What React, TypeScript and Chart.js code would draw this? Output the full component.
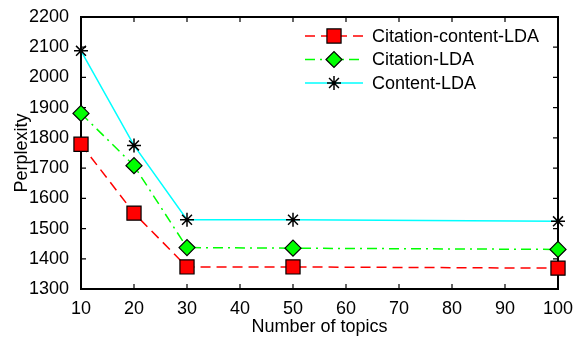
import React, { useEffect, useRef } from "react";
import { Chart, registerables } from "chart.js";

Chart.register(...registerables);

const topics = [10, 20, 30, 50, 100];
const citationContentLDA = [1779, 1551, 1373, 1373, 1369];
const citationLDA = [1881, 1708, 1437, 1435, 1431];
const contentLDA = [2088, 1775, 1529, 1529, 1524];
const seriesNames = ["Citation-content-LDA", "Citation-LDA", "Content-LDA"];
const xTicks = [10, 20, 30, 40, 50, 60, 70, 80, 90, 100];
const yTicks = [1300, 1400, 1500, 1600, 1700, 1800, 1900, 2000, 2100, 2200];

const FONT = "'Liberation Sans', Arial, Helvetica, sans-serif";
const LEGEND_ROWS = [36, 59.5, 83];

function drawMarker(ctx: CanvasRenderingContext2D, style: string, r: number, x: number, y: number) {
  ctx.beginPath();
  if (style === "rect") {
    const s = Math.SQRT1_2 * r;
    ctx.rect(x - s, y - s, 2 * s, 2 * s);
    ctx.fill();
    ctx.stroke();
  } else if (style === "rectRot") {
    ctx.moveTo(x - r, y);
    ctx.lineTo(x, y + r);
    ctx.lineTo(x + r, y);
    ctx.lineTo(x, y - r);
    ctx.closePath();
    ctx.fill();
    ctx.stroke();
  } else {
    for (let k = 0; k < 4; k++) {
      const ang = (k * Math.PI) / 4;
      ctx.moveTo(x - Math.cos(ang) * r, y - Math.sin(ang) * r);
      ctx.lineTo(x + Math.cos(ang) * r, y + Math.sin(ang) * r);
    }
    ctx.stroke();
  }
}

const boxPlugin = {
  id: "boxAxes",
  beforeDatasetsDraw(chart: any) {
    const { ctx, chartArea: a, scales } = chart;
    ctx.save();
    ctx.strokeStyle = "#000";
    ctx.lineWidth = 2;
    ctx.strokeRect(a.left, a.top, a.right - a.left, a.bottom - a.top);
    ctx.lineWidth = 1.2;
    const L = 5;
    ctx.beginPath();
    xTicks.forEach((v) => {
      const x = scales.x.getPixelForValue(v);
      ctx.moveTo(x, a.bottom);
      ctx.lineTo(x, a.bottom - L);
      ctx.moveTo(x, a.top);
      ctx.lineTo(x, a.top + L);
    });
    yTicks.forEach((v) => {
      const y = scales.y.getPixelForValue(v);
      ctx.moveTo(a.left, y);
      ctx.lineTo(a.left + L, y);
      ctx.moveTo(a.right, y);
      ctx.lineTo(a.right - L, y);
    });
    ctx.stroke();
    ctx.restore();
  },
  afterDraw(chart: any) {
    const { ctx } = chart;
    const x0 = 305;
    const x1 = 363;
    const mx = 334;
    chart.data.datasets.forEach((ds: any, i: number) => {
      const y = LEGEND_ROWS[i];
      ctx.save();
      ctx.strokeStyle = ds.borderColor;
      ctx.lineWidth = ds.borderWidth;
      ctx.setLineDash(ds.borderDash || []);
      ctx.beginPath();
      ctx.moveTo(x0, y);
      ctx.lineTo(x1, y);
      ctx.stroke();
      ctx.setLineDash([]);
      ctx.fillStyle = ds.pointBackgroundColor;
      ctx.strokeStyle = ds.pointBorderColor;
      ctx.lineWidth = ds.pointBorderWidth;
      drawMarker(ctx, ds.pointStyle, ds.pointRadius, mx, y);
      ctx.fillStyle = "#000";
      ctx.font = `18px ${FONT}`;
      ctx.textBaseline = "middle";
      ctx.textAlign = "left";
      ctx.fillText(seriesNames[i], 372, y + 1);
      ctx.restore();
    });
  },
};

export default function App() {
  const ref = useRef<HTMLCanvasElement>(null);
  useEffect(() => {
    document.body.style.margin = "0";
    const chart = new Chart(ref.current!, {
      type: "line",
      data: {
        datasets: [
          {
            label: seriesNames[0],
            data: topics.map((t, i) => ({ x: t, y: citationContentLDA[i] })),
            borderColor: "#ff0000",
            borderWidth: 1.5,
            borderDash: [10, 6],
            pointStyle: "rect",
            pointRadius: 10,
            pointBackgroundColor: "#ff0000",
            pointBorderColor: "#000000",
            pointBorderWidth: 1.2,
            clip: false as any,
          },
          {
            label: seriesNames[1],
            data: topics.map((t, i) => ({ x: t, y: citationLDA[i] })),
            borderColor: "#00ff00",
            borderWidth: 1.5,
            borderDash: [10, 5, 2, 5],
            pointStyle: "rectRot",
            pointRadius: 8,
            pointBackgroundColor: "#00ff00",
            pointBorderColor: "#000000",
            pointBorderWidth: 1.2,
            clip: false as any,
          },
          {
            label: seriesNames[2],
            data: topics.map((t, i) => ({ x: t, y: contentLDA[i] })),
            borderColor: "#00ffff",
            borderWidth: 1.5,
            pointStyle: "star",
            pointRadius: 7,
            pointBackgroundColor: "#000000",
            pointBorderColor: "#000000",
            pointBorderWidth: 1.5,
            clip: false as any,
          },
        ],
      },
      options: {
        responsive: false,
        animation: false,
        layout: { padding: { left: 0, top: 17, right: 25, bottom: 0 } },
        plugins: { legend: { display: false }, tooltip: { enabled: false } },
        elements: { line: { tension: 0 } },
        scales: {
          x: {
            type: "linear",
            min: 10,
            max: 100,
            afterBuildTicks: (s: any) => {
              s.ticks = xTicks.map((v) => ({ value: v }));
            },
            afterFit: (s: any) => {
              s.height = 51;
            },
            grid: { display: false },
            border: { display: false },
            ticks: {
              color: "#000",
              font: { family: FONT, size: 18 },
              padding: 1,
              maxRotation: 0,
              callback: (v: any) => String(v),
            },
            title: {
              display: true,
              text: "Number of topics",
              color: "#000",
              font: { family: FONT, size: 18 },
              padding: { top: 0, bottom: 2 },
            },
          },
          y: {
            type: "linear",
            min: 1300,
            max: 2200,
            afterBuildTicks: (s: any) => {
              s.ticks = yTicks.map((v) => ({ value: v }));
            },
            afterFit: (s: any) => {
              s.width = 81;
            },
            grid: { display: false },
            border: { display: false },
            ticks: {
              color: "#000",
              font: { family: FONT, size: 18 },
              padding: 4,
              callback: (v: any) => String(v),
            },
            title: {
              display: true,
              text: "Perplexity",
              color: "#000",
              font: { family: FONT, size: 18 },
              padding: { top: 11, bottom: 0 },
            },
          },
        },
      },
      plugins: [boxPlugin],
    } as any);
    return () => chart.destroy();
  }, []);
  return (
    <div style={{ position: "absolute", left: 0, top: 0, width: 583, height: 340, background: "#fff" }}>
      <canvas ref={ref} width={583} height={340} style={{ display: "block" }} />
    </div>
  );
}
